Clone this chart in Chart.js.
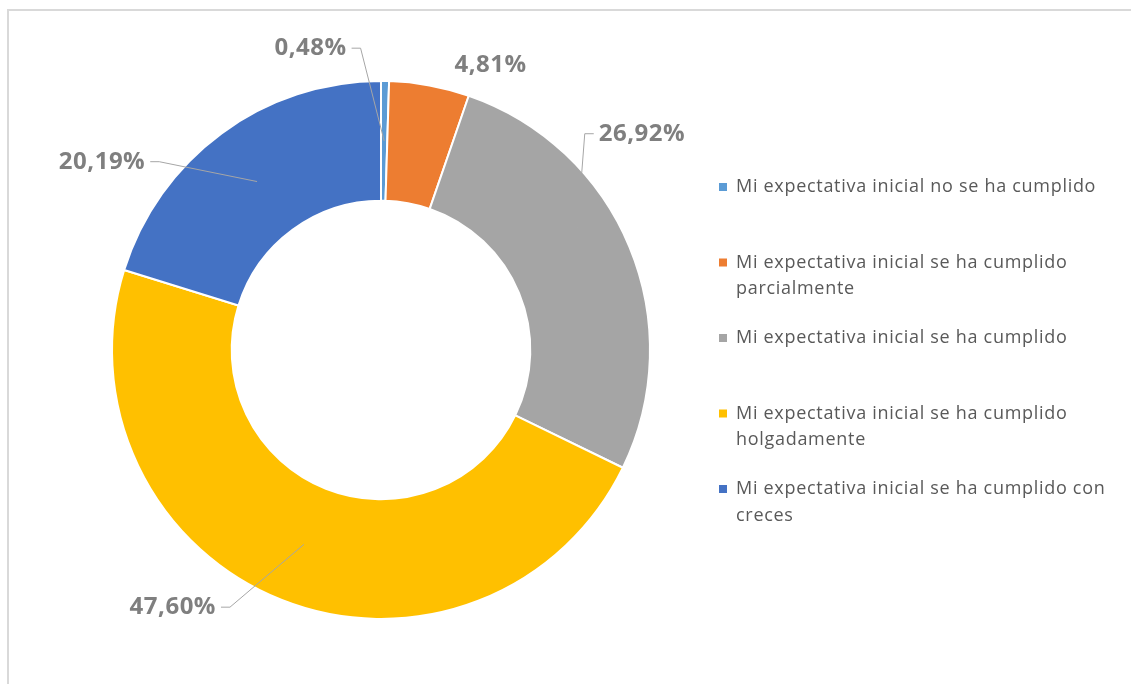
<!DOCTYPE html>
<html>
<head>
<meta charset="utf-8">
<script src="https://cdn.jsdelivr.net/npm/chart.js@4"></script>
<style>
  html, body { margin: 0; padding: 0; background: #fff; }
  #wrap { position: relative; width: 1131px; height: 684px; }
  #frame { position: absolute; left: 7px; top: 9px; right: 0; bottom: 0;
           border-top: 2px solid #d9d9d9; border-left: 2px solid #d9d9d9; pointer-events: none; }
</style>
</head>
<body>
<div id="wrap">
  <canvas id="myChart" width="1131" height="684"></canvas>
  <div id="frame"></div>
</div>
<script>
// categorias (cada una partida en lineas como en la leyenda)
var categories = [
  ['Mi expectativa inicial no se ha cumplido'],
  ['Mi expectativa inicial se ha cumplido', 'parcialmente'],
  ['Mi expectativa inicial se ha cumplido'],
  ['Mi expectativa inicial se ha cumplido', 'holgadamente'],
  ['Mi expectativa inicial se ha cumplido con', 'creces']
];
var values = [0.48, 4.81, 26.92, 47.60, 20.19];
var valueLabels = ['0,48%', '4,81%', '26,92%', '47,60%', '20,19%'];
var colors = ['#5B9BD5', '#ED7D31', '#A5A5A5', '#FFC000', '#4472C4'];

// posicion de las etiquetas, en radios desde el centro
var labelPos = [[-0.262, -1.122], [0.407, -1.059], [0.970, -0.804], [-0.774, 0.956], [-1.037, -0.700]];
var hasLeader = [true, false, true, true, true];

var labelPlugin = {
  id: 'outLabels',
  afterDatasetsDraw: function(chart) {
    var ctx = chart.ctx;
    var meta = chart.getDatasetMeta(0);
    ctx.save();
    ctx.font = 'bold 24px "Open Sans", sans-serif';
    ctx.letterSpacing = '0.5px';
    ctx.textBaseline = 'middle';
    ctx.textAlign = 'center';
    meta.data.forEach(function(arc, i) {
      var p = arc.getProps(['x', 'y', 'startAngle', 'endAngle', 'innerRadius', 'outerRadius'], true);
      var mid = (p.startAngle + p.endAngle) / 2;
      var r = (p.innerRadius + p.outerRadius) / 2;
      var ax = p.x + Math.cos(mid) * r;
      var ay = p.y + Math.sin(mid) * r;
      var lx = p.x + labelPos[i][0] * p.outerRadius;
      var ly = p.y + labelPos[i][1] * p.outerRadius;
      var w = ctx.measureText(valueLabels[i]).width;
      if (hasLeader[i]) {
        var dir = lx < ax ? 1 : -1;
        var sx = lx + dir * (w / 2 + 5);
        ctx.strokeStyle = '#a6a6a6';
        ctx.lineWidth = 1;
        ctx.beginPath();
        ctx.moveTo(sx, ly);
        ctx.lineTo(sx + dir * 9, ly);
        ctx.lineTo(ax, ay);
        ctx.stroke();
      }
      ctx.fillStyle = '#7f7f7f';
      ctx.fillText(valueLabels[i], lx, ly);
    });
    ctx.restore();
  }
};

var legendPlugin = {
  id: 'sideLegend',
  afterDraw: function(chart) {
    var ctx = chart.ctx;
    var area = chart.chartArea;
    var x0 = area.right + 68;
    var y0 = (area.top + area.bottom) / 2 - 163;
    ctx.save();
    ctx.font = '18px "Open Sans", sans-serif';
    ctx.letterSpacing = '0.7px';
    ctx.textBaseline = 'middle';
    ctx.textAlign = 'left';
    categories.forEach(function(lines, i) {
      var y = y0 + i * 75.5;
      ctx.fillStyle = colors[i];
      ctx.fillRect(x0, y - 4, 8, 8);
      ctx.fillStyle = '#595959';
      lines.forEach(function(t, j) {
        ctx.fillText(t, x0 + 17, y + j * 26.5);
      });
    });
    ctx.restore();
  }
};

var ctx = document.getElementById('myChart').getContext('2d');
new Chart(ctx, {
  type: 'doughnut',
  data: {
    labels: categories,
    datasets: [{
      data: values,
      backgroundColor: colors,
      borderColor: '#ffffff',
      borderWidth: 2
    }]
  },
  options: {
    responsive: false,
    animation: false,
    cutout: '55.5%',
    layout: { padding: { left: 111, right: 480, top: 80, bottom: 64 } },
    plugins: {
      legend: { display: false },
      tooltip: { enabled: false }
    }
  },
  plugins: [labelPlugin, legendPlugin]
});
</script>
</body>
</html>
